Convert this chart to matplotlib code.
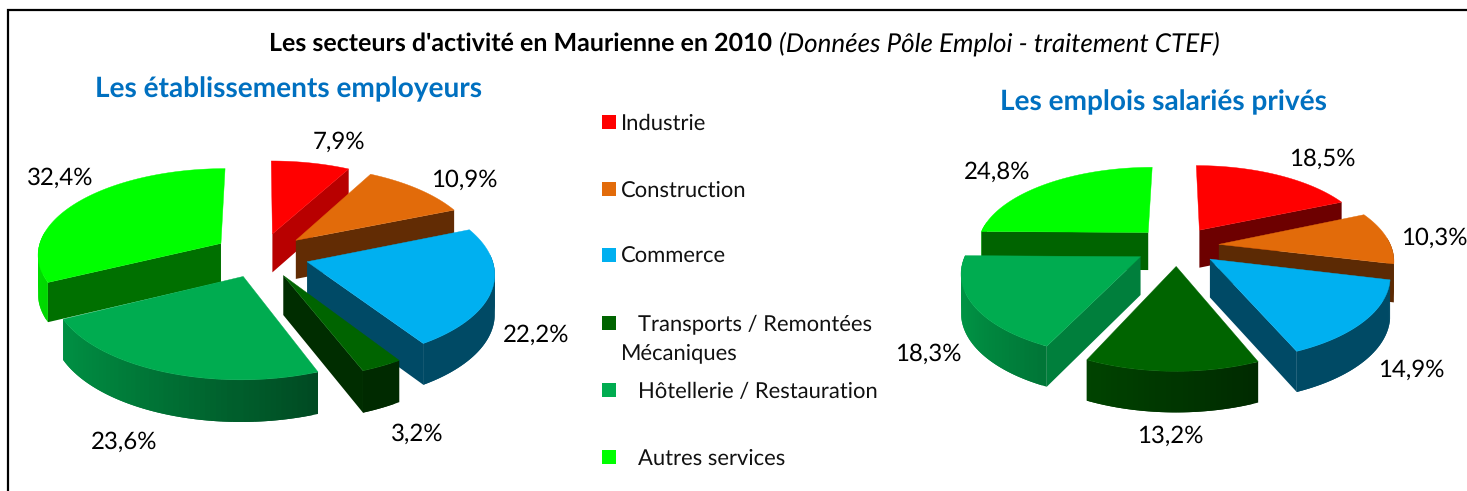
import numpy as np
import matplotlib
matplotlib.use("Agg")
import matplotlib.pyplot as plt
from matplotlib.colors import to_rgb
from matplotlib.patches import Polygon, Rectangle

plt.rcParams["font.family"] = ["Lato", "DejaVu Sans"]
plt.rcParams["text.hinting"] = "no_hinting"
plt.rcParams["text.hinting_factor"] = 1

CATEGORIES = ["Industrie", "Construction", "Commerce",
              "Transports / Remontées\nMécaniques",
              "Hôtellerie / Restauration", "Autres services"]
ETABLISSEMENTS = [7.9, 10.9, 22.2, 3.2, 23.6, 32.4]
EMPLOIS = [18.5, 10.3, 14.9, 13.2, 18.3, 24.8]

COLORS = ["#FF0000", "#E26B0A", "#00B0F0", "#006400", "#00AC50", "#00FF00"]
WALLS_LEFT = ["#B80000", "#622C04", "#004A66", "#002D00", "#007A38", "#007000"]
WALLS_RIGHT = ["#6D0000", "#5C2A04", "#004A66", "#002D00", "#007F3C", "#006400"]

LABELS_LEFT = [(339, 142), (464, 180), (536, 335), (417, 434), (124, 442), (60, 178)]
LABELS_RIGHT = [(1322, 159), (1434, 238), (1411, 370), (1170, 436), (928, 354), (997, 172)]
LEGEND_Y = [122, 189, 255, 323, 390, 457]
LEGEND_X = [621, 621, 621, 638, 638, 638]


def shade(color, f):
    return tuple(c * f for c in to_rgb(color))


def draw_pie(ax, values, walls, cx, cy, rx, ry, p, depth, explode):
    values = np.array(values, dtype=float)
    edges = np.cumsum(np.r_[0, values]) / values.sum() * 2 * np.pi

    def project(u, v, z=0.0):
        u, v = np.atleast_1d(u), np.atleast_1d(v)
        w = 1 + p * v
        return np.c_[cx + rx * u / w, cy - ry * v / w + z / (1 + 0.06 * v)]

    slices = []
    for i in range(len(values)):
        t0, t1 = edges[i], edges[i + 1]
        mid = (t0 + t1) / 2
        slices.append((np.cos(mid), i, t0, t1, mid))
    # back to front
    for _, i, t0, t1, mid in sorted(slices, key=lambda s: -s[0]):
        ou, ov = explode * np.sin(mid), explode * np.cos(mid)
        t = np.linspace(t0, t1, max(int((t1 - t0) * 40), 6))
        au, av = ou + np.sin(t), ov + np.cos(t)

        faces = []
        # radial walls, only those turned towards the viewer
        for k, sign in ((0, 1.0), (-1, -1.0)):
            if sign * np.sin(t[k]) > -1e-3:
                continue
            u = np.array([ou, au[k]])
            v = np.array([ov, av[k]])
            pts = np.r_[project(u, v), project(u[::-1], v[::-1], depth)]
            faces.append((v.mean(), pts, walls[i]))
        # rim, darker towards the right; strips overlap so no seams show
        for k in range(len(t) - 1):
            if np.cos(t[k]) > 0.1:
                continue
            u = au[k:k + 3]
            v = av[k:k + 3]
            pts = np.r_[project(u, v), project(u[::-1], v[::-1], depth)]
            f = max(0.42, 0.55 - 0.33 * np.sin(t[k]))
            faces.append((v.mean(), pts, shade(COLORS[i], f)))
        for _, pts, col in sorted(faces, key=lambda x: -x[0]):
            ax.add_patch(Polygon(pts, closed=True, facecolor=col, edgecolor="none"))

        top = np.r_[project(ou, ov), project(au, av)]
        ax.add_patch(Polygon(top, closed=True, facecolor=COLORS[i], edgecolor=COLORS[i], lw=0.3))


def pct(v):
    return f"{v:.1f}".replace(".", ",") + "%"


fig = plt.figure(figsize=(14.67, 4.91), dpi=100)
ax = fig.add_axes([0, 0, 1, 1])
ax.set_xlim(0, 1467)
ax.set_ylim(491, 0)
ax.axis("off")

ax.plot([8, 8, 1467], [491, 10, 10], color="black", lw=1.6, solid_joinstyle="miter")

ax.text(772, 44, "Les secteurs d'activité en Maurienne en 2010", fontsize=18.05,
        fontweight="bold", ha="right", va="center")
ax.text(779, 44, "(Données Pôle Emploi - traitement CTEF)", fontsize=18.45,
        fontstyle="italic", ha="left", va="center")
ax.text(289, 89, "Les établissements employeurs", fontsize=19.8, fontweight="bold",
        color="#0070C0", ha="center", va="center")
ax.text(1163, 102, "Les emplois salariés privés", fontsize=19.8, fontweight="bold",
        color="#0070C0", ha="center", va="center")

draw_pie(ax, ETABLISSEMENTS, WALLS_LEFT, 261, 255, 184, 86, 0.116, 39, 0.26)
draw_pie(ax, EMPLOIS, WALLS_RIGHT, 1177, 246, 172, 80, 0.165, 38, 0.245)

for v, (x, y) in zip(ETABLISSEMENTS, LABELS_LEFT):
    ax.text(x, y, pct(v), fontsize=17.3, ha="center", va="center")
for v, (x, y) in zip(EMPLOIS, LABELS_RIGHT):
    ax.text(x, y, pct(v), fontsize=17.3, ha="center", va="center")

for name, col, x, y in zip(CATEGORIES, COLORS, LEGEND_X, LEGEND_Y):
    ax.add_patch(Rectangle((602, y - 7), 14, 14, facecolor=col, edgecolor="none"))
    lines = name.split("\n")
    ax.text(x, y + 1.5, lines[0], fontsize=15.9, ha="left", va="center", color="#111111")
    if len(lines) > 1:
        ax.text(621, y + 30.5, lines[1], fontsize=15.9, ha="left", va="center", color="#111111")

fig.savefig("out.png", dpi=100)
